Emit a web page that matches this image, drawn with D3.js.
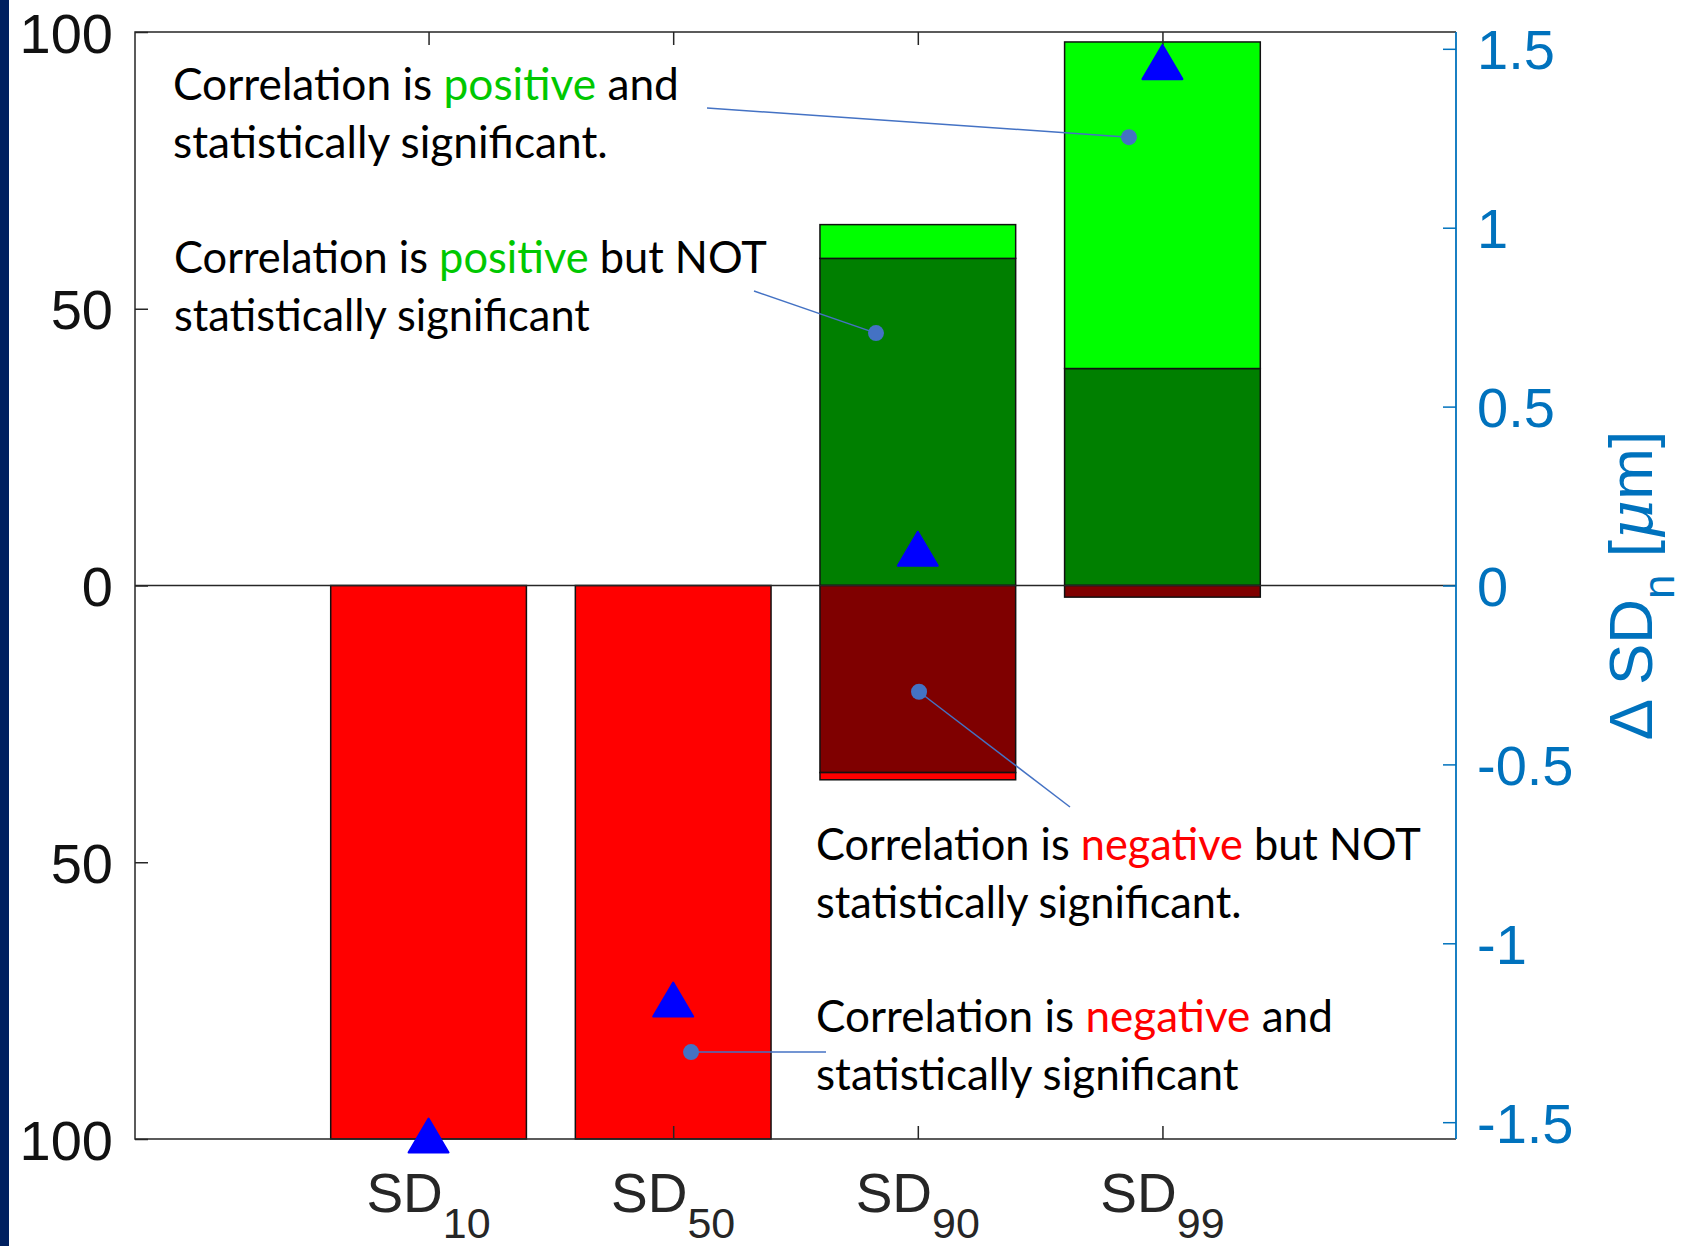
<!DOCTYPE html>
<html><head><meta charset="utf-8">
<script src="https://cdn.jsdelivr.net/npm/d3@7"></script>
<style>body{margin:0;background:#fff;} svg{display:block}</style>
</head><body><svg id="c" width="1688" height="1246"></svg>
<script>
// ---- data ----
const categories = ["SD10", "SD50", "SD90", "SD99"];
const catMain = ["SD", "SD", "SD", "SD"];
const catSub = ["10", "50", "90", "99"];
const posNotSig = [0, 0, 59.1, 39.2];   // dark green
const posSig    = [0, 0, 6.1, 59.0];    // bright green
const negNotSig = [0, 0, 33.8, 2.1];    // dark red
const negSig    = [100, 100, 1.3, 0];   // red
const deltaSD   = [-1.54, -1.16, 0.10, 1.46];
const leftTicks = [-100, -50, 0, 50, 100];
const leftTickLabels = ["100", "50", "0", "50", "100"];
const rightTicks = [-1.5, -1, -0.5, 0, 0.5, 1, 1.5];
const rightTickLabels = ["-1.5", "-1", "-0.5", "0", "0.5", "1", "1.5"];

// ---- layout ----
const svg = d3.select("#c");
const L = 135, R = 1456, T = 32, B = 1139;
const x = d3.scaleLinear().domain([-1.2, 4.2]).range([L, R]);
const yL = d3.scaleLinear().domain([-100, 100]).range([B, T]);
const yR = d3.scaleLinear().domain([-1.547, 1.547]).range([B, T]);
const step = x(1) - x(0), bw = step * 0.8;
const AX = "#262626", BLUE = "#0072BD";

svg.append("rect").attr("x", 0).attr("y", 0).attr("width", 9).attr("height", 1246).attr("fill", "#002060");

// bars
const segs = [];
categories.forEach((c, i) => {
  segs.push({i, y0: 0, y1: posNotSig[i], fill: "#007F00"});
  segs.push({i, y0: posNotSig[i], y1: posNotSig[i] + posSig[i], fill: "#00FF00"});
  segs.push({i, y0: 0, y1: -negNotSig[i], fill: "#7F0000"});
  segs.push({i, y0: -negNotSig[i], y1: -negNotSig[i] - negSig[i], fill: "#FF0000"});
});
svg.append("g").selectAll("rect").data(segs.filter(s => s.y1 !== s.y0)).join("rect")
  .attr("x", d => x(d.i) - bw / 2).attr("width", bw)
  .attr("y", d => yL(Math.max(d.y0, d.y1)))
  .attr("height", d => Math.abs(yL(d.y0) - yL(d.y1)))
  .attr("fill", d => d.fill).attr("stroke", "#111").attr("stroke-width", 1.5);

// zero line
svg.append("line").attr("x1", L).attr("x2", R).attr("y1", yL(0)).attr("y2", yL(0))
  .attr("stroke", AX).attr("stroke-width", 1.5);

// axes
const fontAx = "'Liberation Sans', Arial, Helvetica, sans-serif";
const gl = svg.append("g").attr("transform", `translate(${L},0)`)
  .call(d3.axisLeft(yL).tickValues(leftTicks).tickSizeInner(-13).tickSizeOuter(0).tickPadding(22)
    .tickFormat((d, k) => leftTickLabels[k]));
gl.select(".domain").remove();
gl.selectAll("line").attr("stroke", AX).attr("stroke-width", 1.5);
gl.selectAll("text").attr("font-family", fontAx).attr("font-size", 56).attr("fill", "#111").attr("dy", "0.36em");

const gr = svg.append("g").attr("transform", `translate(${R},0)`)
  .call(d3.axisRight(yR).tickValues(rightTicks).tickSizeInner(-13).tickSizeOuter(0).tickPadding(21)
    .tickFormat((d, k) => rightTickLabels[k]));
gr.select(".domain").remove();
gr.selectAll("line").attr("stroke", BLUE).attr("stroke-width", 1.5);
gr.selectAll("text").attr("font-family", fontAx).attr("font-size", 56).attr("fill", BLUE).attr("dy", "0.36em");

const gb = svg.append("g").attr("transform", `translate(0,${B})`)
  .call(d3.axisBottom(x).tickValues([0, 1, 2, 3]).tickSizeInner(-13).tickSizeOuter(0).tickFormat(""));
gb.select(".domain").remove();
gb.selectAll("line").attr("stroke", AX).attr("stroke-width", 1.5);
const gt = svg.append("g").attr("transform", `translate(0,${T})`)
  .call(d3.axisTop(x).tickValues([0, 1, 2, 3]).tickSizeInner(-13).tickSizeOuter(0).tickFormat(""));
gt.select(".domain").remove();
gt.selectAll("line").attr("stroke", AX).attr("stroke-width", 1.5);

// box
svg.append("path").attr("d", `M${R},${T}H${L}V${B}H${R}`).attr("fill", "none").attr("stroke", AX).attr("stroke-width", 1.5);
svg.append("line").attr("x1", R).attr("x2", R).attr("y1", T).attr("y2", B).attr("stroke", BLUE).attr("stroke-width", 1.8);

// x tick labels
const xl = svg.append("g").selectAll("text").data(categories).join("text")
  .attr("x", (d, i) => x(i)).attr("y", 1212).attr("text-anchor", "middle")
  .attr("font-family", fontAx).attr("fill", AX);
xl.append("tspan").attr("font-size", 55).text((d, i) => catMain[i]);
xl.append("tspan").attr("font-size", 43).attr("dy", 26).text((d, i) => catSub[i]);

// right axis label
const yt = svg.append("text").attr("transform", `translate(1652,${yR(0)}) rotate(-90)`)
  .attr("text-anchor", "middle").attr("font-family", fontAx).attr("font-size", 62).attr("fill", BLUE);
yt.append("tspan").text("Δ SD");
yt.append("tspan").attr("font-size", 44).attr("dy", 22).text("n");
yt.append("tspan").attr("dy", -22).text(" [");
yt.append("tspan").attr("font-family", "'DejaVu Serif', serif").attr("font-style", "italic").text("μ");
yt.append("tspan").text("m]");

// triangles
svg.append("g").selectAll("path").data(deltaSD).join("path")
  .attr("d", "M0,-18L20,16L-20,16Z")
  .attr("transform", (d, i) => `translate(${x(i)},${yR(d)})`)
  .attr("fill", "#0000FF").attr("stroke", "#0000FF").attr("stroke-width", 2).attr("stroke-linejoin", "round");

// annotations
const GREEN = "#00C800", RED = "#FF0000", LINK = "#4472C4";
const notes = [
  {cat: 3, off: -0.137, val: 81.0, end: [707, 108], tx: 173, ty: 100, w: 506,
   lines: [[["Correlation is ", null], ["positive", GREEN], [" and", null]], [["statistically significant.", null]]]},
  {cat: 2, off: -0.171, val: 45.6, end: [754, 291], tx: 174, ty: 273, w: 593,
   lines: [[["Correlation is ", null], ["positive", GREEN], [" but NOT", null]], [["statistically significant", null]]]},
  {cat: 2, off: 0.005, val: -19.2, end: [1070, 807], tx: 816, ty: 860, w: 605,
   lines: [[["Correlation is ", null], ["negative", RED], [" but NOT", null]], [["statistically significant.", null]]]},
  {cat: 1, off: 0.073, val: -84.3, end: [826, 1052], tx: 816, ty: 1032, w: 517,
   lines: [[["Correlation is ", null], ["negative", RED], [" and", null]], [["statistically significant", null]]]}
];
notes.forEach(n => {
  const px = x(n.cat + n.off), py = yL(n.val);
  svg.append("line").attr("x1", px).attr("y1", py).attr("x2", n.end[0]).attr("y2", n.end[1])
    .attr("stroke", LINK).attr("stroke-width", 1.5);
  svg.append("circle").attr("cx", px).attr("cy", py).attr("r", 8).attr("fill", LINK);
  const g = svg.append("g");
  const texts = n.lines.map((ln, k) => {
    const t = g.append("text").attr("x", 0).attr("y", k * 58)
      .attr("font-family", "Lato, 'Open Sans', sans-serif").attr("font-size", 45).attr("fill", "#000");
    ln.forEach(p => { const s = t.append("tspan").text(p[0]); if (p[1]) s.attr("fill", p[1]); });
    t.attr("xml:space", "preserve").style("white-space", "pre");
    return t;
  });
  const len = texts[0].node().getComputedTextLength();
  const sx = n.w / len;
  g.attr("transform", `translate(${n.tx},${n.ty}) scale(${sx},1)`);
});
</script>
</body></html>
